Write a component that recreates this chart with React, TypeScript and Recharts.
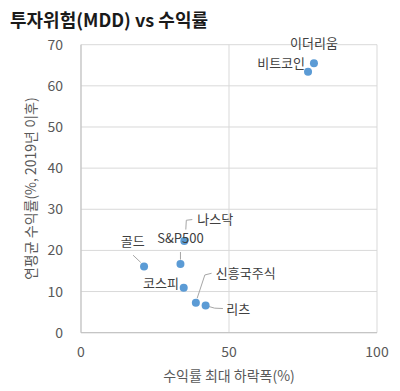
import React from 'react';
import {
  ScatterChart,
  Scatter,
  XAxis,
  YAxis,
  CartesianGrid,
} from 'recharts';

// asset names, max drawdown (%), annual return (%)
const assets = ['이더리움', '비트코인', '나스닥', 'S&P500', '골드', '코스피', '신흥국주식', '리츠'];
const mddValues = [78.7, 76.7, 34.9, 33.6, 21.3, 34.7, 38.8, 42.1];
const returnValues = [65.5, 63.4, 22.3, 16.7, 16.1, 10.9, 7.3, 6.6];

const xTicks = [0, 50, 100];
const yTicks = [0, 10, 20, 30, 40, 50, 60, 70];

const points = assets.map((name, i) => ({ name, x: mddValues[i], y: returnValues[i] }));

// label placement relative to each point (pixels)
type LabelPos = { dx: number; dy: number; anchor: 'start' | 'middle' | 'end'; leader?: [number, number][] };
const labelPos: Record<string, LabelPos> = {
  이더리움: { dx: 0, dy: -20.5, anchor: 'middle' },
  비트코인: { dx: -3, dy: -9.4, anchor: 'end' },
  나스닥: { dx: 13, dy: -22.7, anchor: 'start', leader: [[1.5, -11.4], [2, -20.7], [8, -21.4]] },
  'S&P500': { dx: 0, dy: -26, anchor: 'middle', leader: [[0, -12], [0, -4.4]] },
  골드: { dx: -11.3, dy: -26.3, anchor: 'middle', leader: [[-11, -11.3], [-3.3, -4]] },
  코스피: { dx: -4.7, dy: -5.4, anchor: 'end' },
  신흥국주식: { dx: 20, dy: -30, anchor: 'start', leader: [[1.3, -4.4], [9, -27.7], [15.7, -29.4]] },
  리츠: { dx: 20.7, dy: 3, anchor: 'start', leader: [[2.3, 0.7], [9, 2.6], [17.3, 3]] },
};

const FONT = '"Noto Sans CJK KR", "Noto Sans", sans-serif';

const PointShape = (props: any) => {
  const { cx, cy, payload } = props;
  const pos = labelPos[payload.name];
  return (
    <g>
      {pos && pos.leader && (
        <polyline
          points={pos.leader.map(([a, b]) => `${cx + a},${cy + b}`).join(' ')}
          fill="none"
          stroke="#a6a6a6"
          strokeWidth={1}
        />
      )}
      <circle cx={cx} cy={cy} r={4} fill="#5b9bd5" />
      {pos && (
        <text
          x={cx + pos.dx}
          y={cy + pos.dy}
          textAnchor={pos.anchor}
          dominantBaseline="central"
          fontSize={13}
          fill="#404040"
          fontFamily={FONT}
        >
          {payload.name}
        </text>
      )}
    </g>
  );
};

export default function App() {
  return (
    <div style={{ position: 'absolute', left: 0, top: 0, width: 400, height: 391, background: '#fff', fontFamily: FONT }}>
      <div style={{ position: 'absolute', left: 10, top: 6, fontSize: 18, fontWeight: 700, color: '#1a1a1a', whiteSpace: 'nowrap' }}>
        투자위험(MDD) vs 수익률
      </div>
      <ScatterChart width={400} height={391} margin={{ top: 44.7, right: 23, bottom: 0, left: 21 }}>
        <CartesianGrid stroke="#d9d9d9" strokeWidth={1} />
        <XAxis
          type="number"
          dataKey="x"
          domain={[0, 100]}
          ticks={xTicks}
          interval={0}
          height={58.3}
          tickSize={0}
          tickMargin={14}
          axisLine={{ stroke: '#bfbfbf' }}
          tickLine={false}
          tick={{ fontSize: 14, fill: '#595959', fontFamily: FONT }}
          label={{ value: '수익률 최대 하락폭(%)', position: 'insideBottom', offset: 10, fontSize: 14, fill: '#595959', fontFamily: FONT }}
        />
        <YAxis
          type="number"
          dataKey="y"
          domain={[0, 70]}
          ticks={yTicks}
          interval={0}
          width={60}
          tickSize={0}
          tickMargin={18}
          axisLine={{ stroke: '#bfbfbf' }}
          tickLine={false}
          tick={{ fontSize: 14, fill: '#595959', fontFamily: FONT }}
          label={{ value: '연평균 수익률(%, 2019년 이후)', angle: -90, position: 'insideLeft', offset: 0, dx: 10, fontSize: 14, fill: '#595959', fontFamily: FONT, style: { textAnchor: 'middle' } }}
        />
        <Scatter data={points} shape={PointShape} isAnimationActive={false} />
      </ScatterChart>
    </div>
  );
}
